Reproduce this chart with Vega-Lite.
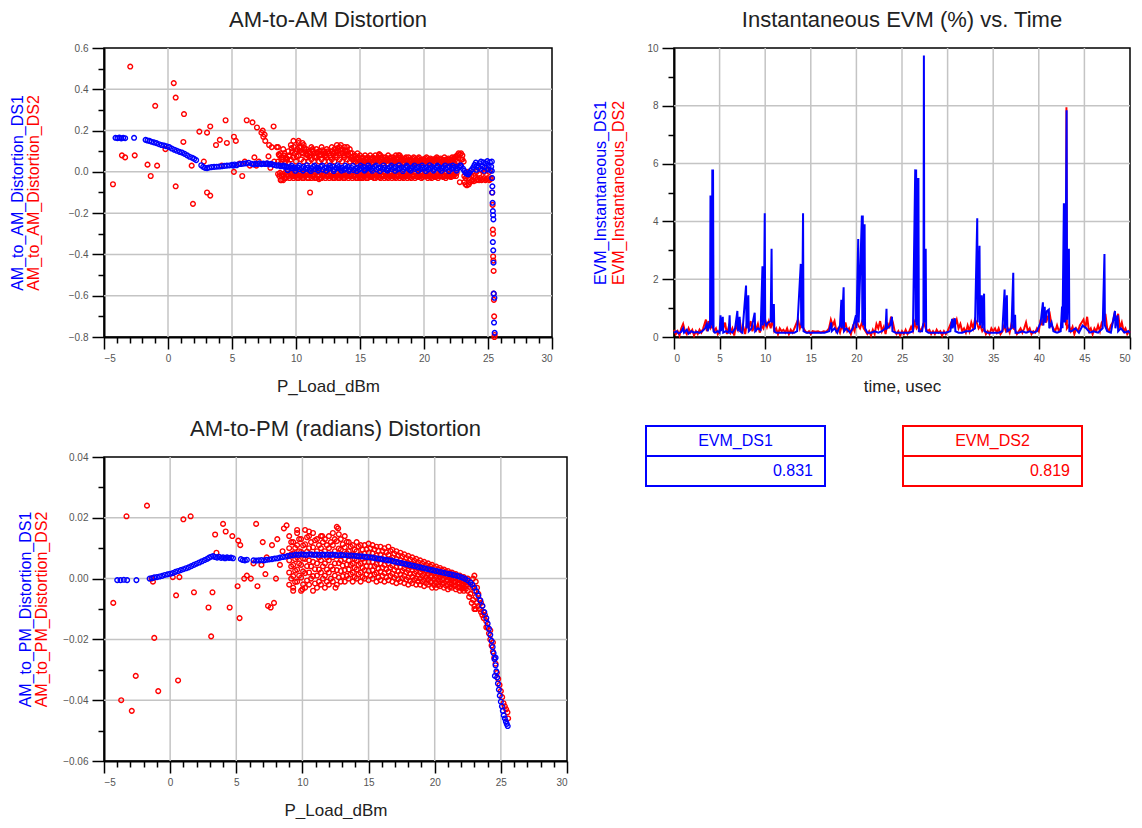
{
"$schema": "https://vega.github.io/schema/vega-lite/v6.json",
"background": "white",
"padding": {"left": 8, "top": 8, "right": 2, "bottom": 0},
"config": {
 "font": "Liberation Sans",
 "view": {"stroke": "#000000", "strokeWidth": 1.5},
 "axis": {"domainColor": "#000000", "domainWidth": 2, "tickColor": "#000000", "tickWidth": 1.5, "labelFont": "Liberation Sans", "labelFontSize": 10, "labelColor": "#555555", "labelPadding": 4, "titleFont": "Liberation Sans", "titleFontWeight": "normal", "titleColor": "#222222"},
 "title": {"font": "Liberation Sans", "fontSize": 22, "fontWeight": "normal", "color": "#222222"}
},
"datasets": {
"amam1": [
{"x":-4.1,"y":0.165},{"x":-3.95,"y":0.163},{"x":-3.8,"y":0.166},{"x":-3.65,"y":0.162},{"x":-3.5,"y":0.165},{"x":-3.35,"y":0.163},{"x":-2.65,"y":0.165},
{"x":-1.75,"y":0.155},{"x":-1.6,"y":0.152},{"x":-1.45,"y":0.15},{"x":-1.3,"y":0.146},{"x":-1.1,"y":0.143},{"x":-0.9,"y":0.139},{"x":-0.7,"y":0.134},{"x":-0.5,"y":0.13},{"x":-0.3,"y":0.127},{"x":-0.1,"y":0.124},{"x":0.1,"y":0.12},{"x":0.3,"y":0.113},{"x":0.5,"y":0.107},{"x":0.7,"y":0.102},{"x":0.9,"y":0.097},{"x":1.1,"y":0.093},{"x":1.3,"y":0.087},{"x":1.5,"y":0.08},{"x":1.7,"y":0.073},{"x":1.9,"y":0.068},{"x":2.05,"y":0.063},{"x":2.2,"y":0.057},
{"x":2.6,"y":0.032},{"x":2.75,"y":0.024},{"x":2.9,"y":0.019},{"x":3.05,"y":0.018},{"x":3.2,"y":0.021},{"x":3.4,"y":0.023},{"x":3.6,"y":0.024},{"x":3.8,"y":0.025},{"x":4.0,"y":0.026},{"x":4.2,"y":0.027},{"x":4.4,"y":0.029},{"x":4.6,"y":0.03},{"x":4.8,"y":0.031},{"x":5.0,"y":0.034},{"x":5.1,"y":0.03},{"x":5.2,"y":0.036},{"x":5.35,"y":0.032},{"x":5.5,"y":0.037},{"x":5.7,"y":0.038},{"x":5.9,"y":0.04},{"x":6.1,"y":0.041},{"x":6.3,"y":0.044},{"x":6.55,"y":0.039},{"x":6.7,"y":0.036},{"x":6.85,"y":0.04},{"x":7.0,"y":0.038},{"x":7.15,"y":0.041},{"x":7.3,"y":0.037},{"x":7.45,"y":0.04},{"x":7.6,"y":0.038},{"x":7.75,"y":0.041},{"x":7.9,"y":0.036},{"x":8.05,"y":0.039},{"x":8.2,"y":0.035},{"x":8.35,"y":0.033},{"x":8.5,"y":0.03},{"x":8.65,"y":0.032},{"x":8.8,"y":0.027},{"x":8.95,"y":0.029},{"x":9.1,"y":0.024},{"x":9.25,"y":0.026},{"x":9.4,"y":0.021},{"x":9.55,"y":0.023},{"x":9.7,"y":0.018},{"x":9.85,"y":0.022},
{"x":10.0,"y":0.016},{"x":10.15,"y":0.022},{"x":10.3,"y":0.012},{"x":10.45,"y":0.019},{"x":10.6,"y":0.025},{"x":10.75,"y":0.014},{"x":10.9,"y":0.02},{"x":11.05,"y":0.01},{"x":11.2,"y":0.018},{"x":11.35,"y":0.024},{"x":11.5,"y":0.013},{"x":11.65,"y":0.02},{"x":11.8,"y":0.016},{"x":11.95,"y":0.025},{"x":12.1,"y":0.011},{"x":12.25,"y":0.019},{"x":12.4,"y":0.022},{"x":12.55,"y":0.014},{"x":12.7,"y":0.02},{"x":12.85,"y":0.026},{"x":13.0,"y":0.012},{"x":13.15,"y":0.018},{"x":13.3,"y":0.023},{"x":13.45,"y":0.015},{"x":13.6,"y":0.02},{"x":13.75,"y":0.01},{"x":13.9,"y":0.017},{"x":14.05,"y":0.024},{"x":14.2,"y":0.013},{"x":14.35,"y":0.019},{"x":14.5,"y":0.008},{"x":14.65,"y":0.016},{"x":14.8,"y":0.021},{"x":14.95,"y":0.012},{"x":15.1,"y":0.018},{"x":15.25,"y":0.024},{"x":15.4,"y":0.011},{"x":15.55,"y":0.017},{"x":15.7,"y":0.022},{"x":15.85,"y":0.013},{"x":16.0,"y":0.019},{"x":16.15,"y":0.025},{"x":16.3,"y":0.012},{"x":16.45,"y":0.018},{"x":16.6,"y":0.022},{"x":16.75,"y":0.014},{"x":16.9,"y":0.02},{"x":17.05,"y":0.01},{"x":17.2,"y":0.017},{"x":17.35,"y":0.023},{"x":17.5,"y":0.013},{"x":17.65,"y":0.019},{"x":17.8,"y":0.024},{"x":17.95,"y":0.012},{"x":18.1,"y":0.018},{"x":18.25,"y":0.022},{"x":18.4,"y":0.014},{"x":18.55,"y":0.02},{"x":18.7,"y":0.025},{"x":18.85,"y":0.012},{"x":19.0,"y":0.018},{"x":19.15,"y":0.023},{"x":19.3,"y":0.014},{"x":19.45,"y":0.019},{"x":19.6,"y":0.025},{"x":19.75,"y":0.013},{"x":19.9,"y":0.02},{"x":20.05,"y":0.016},{"x":20.2,"y":0.022},{"x":20.35,"y":0.012},{"x":20.5,"y":0.019},{"x":20.65,"y":0.024},{"x":20.8,"y":0.014},{"x":20.95,"y":0.02},{"x":21.1,"y":0.026},{"x":21.25,"y":0.013},{"x":21.4,"y":0.019},{"x":21.55,"y":0.023},{"x":21.7,"y":0.015},{"x":21.85,"y":0.021},{"x":22.0,"y":0.027},{"x":22.15,"y":0.014},{"x":22.3,"y":0.02},{"x":22.45,"y":0.025},{"x":22.6,"y":0.016},{"x":22.75,"y":0.022},{"x":22.9,"y":0.028},
{"x":9.05,"y":0.03},{"x":9.35,"y":0.008},{"x":9.65,"y":0.03},{"x":9.95,"y":0.005},{"x":10.25,"y":0.03},{"x":10.55,"y":0.006},{"x":10.85,"y":0.032},{"x":11.15,"y":0.004},{"x":11.45,"y":0.03},{"x":11.75,"y":0.006},{"x":12.05,"y":0.031},{"x":12.35,"y":0.005},{"x":12.65,"y":0.03},{"x":12.95,"y":0.004},{"x":13.25,"y":0.032},{"x":13.55,"y":0.006},{"x":13.85,"y":0.03},{"x":14.15,"y":0.005},{"x":14.45,"y":0.029},{"x":14.75,"y":0.004},{"x":15.05,"y":0.03},{"x":15.35,"y":0.006},{"x":15.65,"y":0.031},{"x":15.95,"y":0.005},{"x":16.25,"y":0.03},{"x":16.55,"y":0.004},{"x":16.85,"y":0.031},{"x":17.15,"y":0.006},{"x":17.45,"y":0.03},{"x":17.75,"y":0.005},{"x":18.05,"y":0.032},{"x":18.35,"y":0.004},{"x":18.65,"y":0.03},{"x":18.95,"y":0.006},{"x":19.25,"y":0.031},{"x":19.55,"y":0.005},{"x":19.85,"y":0.03},{"x":20.15,"y":0.004},{"x":20.45,"y":0.032},{"x":20.75,"y":0.006},{"x":21.05,"y":0.03},{"x":21.35,"y":0.005},{"x":21.65,"y":0.031},{"x":21.95,"y":0.004},{"x":22.25,"y":0.03},{"x":22.55,"y":0.006},{"x":22.85,"y":0.032},
{"x":23.05,"y":0.015},{"x":23.15,"y":0.005},{"x":23.25,"y":-0.005},{"x":23.35,"y":-0.01},{"x":23.45,"y":-0.012},{"x":23.55,"y":-0.004},{"x":23.65,"y":0.006},{"x":23.75,"y":0.012},{"x":23.85,"y":0.022},{"x":23.95,"y":0.034},{"x":24.05,"y":0.045},{"x":24.15,"y":0.03},{"x":24.25,"y":0.02},{"x":24.35,"y":0.042},{"x":24.45,"y":0.05},{"x":24.55,"y":0.028},{"x":24.65,"y":0.046},{"x":24.75,"y":0.022},{"x":24.85,"y":0.04},{"x":24.95,"y":0.052},{"x":25.05,"y":0.03},{"x":25.15,"y":0.047},{"x":25.25,"y":0.025},{"x":25.3,"y":0.05},{"x":24.1,"y":0.01},{"x":24.4,"y":0.015},{"x":24.7,"y":0.005},{"x":25.0,"y":0.012},{"x":25.2,"y":0.008},
{"x":25.3,"y":0.005},{"x":25.32,"y":-0.03},{"x":25.34,"y":-0.07},{"x":25.33,"y":-0.1},{"x":25.36,"y":-0.15},{"x":25.38,"y":-0.19},{"x":25.4,"y":-0.21},{"x":25.42,"y":-0.23},{"x":25.38,"y":-0.34},{"x":25.41,"y":-0.38},{"x":25.43,"y":-0.44},{"x":25.45,"y":-0.59},{"x":25.5,"y":-0.61},{"x":25.47,"y":-0.73},{"x":25.52,"y":-0.78}
],
"amam2": [
{"x":-4.3,"y":-0.06},{"x":-3.6,"y":0.08},{"x":-3.35,"y":0.07},{"x":-2.95,"y":0.51},{"x":-2.6,"y":0.08},{"x":-1.6,"y":0.035},{"x":-1.35,"y":-0.02},{"x":-1.0,"y":0.32},{"x":-0.85,"y":0.03},{"x":-0.2,"y":0.11},{"x":0.45,"y":0.43},{"x":0.6,"y":0.36},{"x":0.6,"y":-0.07},{"x":1.25,"y":0.28},{"x":1.2,"y":0.145},{"x":1.85,"y":0.03},{"x":1.95,"y":-0.155},{"x":2.45,"y":0.195},{"x":3.05,"y":0.19},{"x":3.3,"y":0.22},{"x":3.05,"y":-0.1},{"x":3.3,"y":-0.115},{"x":3.75,"y":0.13},{"x":4.05,"y":0.155},{"x":4.5,"y":0.25},{"x":4.6,"y":0.14},{"x":5.15,"y":0.17},{"x":5.3,"y":0.15},{"x":5.15,"y":0.0},{"x":5.8,"y":-0.02},{"x":6.15,"y":0.25},{"x":6.6,"y":0.24},{"x":6.75,"y":0.07},{"x":6.95,"y":0.215},{"x":7.3,"y":0.19},{"x":7.45,"y":0.17},{"x":7.6,"y":0.15},{"x":7.9,"y":0.13},{"x":8.25,"y":0.22},{"x":7.85,"y":0.075},{"x":8.1,"y":0.12},{"x":8.5,"y":0.12},{"x":8.85,"y":-0.04},{"x":6.4,"y":0.03},{"x":6.9,"y":0.03},{"x":7.1,"y":0.05},{"x":5.6,"y":0.04},{"x":4.2,"y":0.03},{"x":2.8,"y":0.05},{"x":6.0,"y":0.05},{"x":7.7,"y":0.04},{"x":8.3,"y":0.05},{"x":8.0,"y":0.02},{"x":7.4,"y":0.2},{"x":7.55,"y":0.18},
{"x":8.6,"y":0.12},{"x":8.6,"y":0.05},{"x":8.6,"y":-0.01},{"x":8.7,"y":0.08},{"x":8.7,"y":-0.02},
{"x":8.8,"y":0.09},{"x":8.8,"y":0.04},{"x":8.8,"y":-0.04},{"x":8.9,"y":0.07},{"x":8.9,"y":-0.02},
{"x":9.0,"y":0.11},{"x":9.0,"y":0.06},{"x":9.0,"y":-0.02},{"x":9.1,"y":0.09},{"x":9.1,"y":-0.03},
{"x":9.2,"y":0.07},{"x":9.2,"y":0.05},{"x":9.2,"y":-0.03},{"x":9.3,"y":0.06},{"x":9.3,"y":-0.01},
{"x":9.4,"y":0.1},{"x":9.4,"y":0.04},{"x":9.4,"y":-0.02},{"x":9.5,"y":0.08},{"x":9.5,"y":-0.03},
{"x":9.6,"y":0.13},{"x":9.6,"y":0.06},{"x":9.6,"y":-0.01},{"x":9.7,"y":0.1},{"x":9.7,"y":-0.02},
{"x":9.8,"y":0.15},{"x":9.8,"y":0.07},{"x":9.8,"y":-0.03},{"x":9.9,"y":0.09},{"x":9.9,"y":-0.02},
{"x":10.0,"y":0.1},{"x":10.0,"y":0.05},{"x":10.0,"y":-0.02},{"x":10.1,"y":0.11},{"x":10.1,"y":-0.03},
{"x":10.2,"y":0.14},{"x":10.2,"y":0.08},{"x":10.2,"y":-0.03},{"x":10.3,"y":0.1},{"x":10.3,"y":-0.02},
{"x":10.4,"y":0.12},{"x":10.4,"y":0.06},{"x":10.4,"y":-0.02},{"x":10.5,"y":0.09},{"x":10.5,"y":-0.03},
{"x":10.6,"y":0.13},{"x":10.6,"y":0.05},{"x":10.6,"y":-0.03},{"x":10.7,"y":0.1},{"x":10.7,"y":-0.02},
{"x":10.8,"y":0.11},{"x":10.8,"y":0.07},{"x":10.8,"y":-0.01},{"x":10.9,"y":0.08},{"x":10.9,"y":-0.03},
{"x":11.0,"y":0.1},{"x":11.0,"y":0.05},{"x":11.0,"y":-0.03},{"x":11.1,"y":0.09},{"x":11.1,"y":-0.1},
{"x":11.2,"y":0.12},{"x":11.2,"y":0.06},{"x":11.2,"y":-0.03},{"x":11.3,"y":0.1},{"x":11.3,"y":-0.02},
{"x":11.4,"y":0.09},{"x":11.4,"y":0.05},{"x":11.4,"y":-0.02},{"x":11.5,"y":0.07},{"x":11.5,"y":-0.03},
{"x":11.6,"y":0.11},{"x":11.6,"y":0.07},{"x":11.6,"y":-0.03},{"x":11.7,"y":0.09},{"x":11.7,"y":-0.02},
{"x":11.8,"y":0.1},{"x":11.8,"y":0.05},{"x":11.8,"y":-0.035},{"x":11.9,"y":0.08},{"x":11.9,"y":-0.03},
{"x":12.0,"y":0.12},{"x":12.0,"y":0.06},{"x":12.0,"y":-0.03},{"x":12.1,"y":0.09},{"x":12.1,"y":-0.02},
{"x":12.2,"y":0.1},{"x":12.2,"y":0.05},{"x":12.2,"y":-0.01},{"x":12.3,"y":0.08},{"x":12.3,"y":-0.03},
{"x":12.4,"y":0.11},{"x":12.4,"y":0.07},{"x":12.4,"y":-0.02},{"x":12.5,"y":0.1},{"x":12.5,"y":-0.02},
{"x":12.6,"y":0.09},{"x":12.6,"y":0.05},{"x":12.6,"y":-0.03},{"x":12.7,"y":0.07},{"x":12.7,"y":-0.02},
{"x":12.8,"y":0.12},{"x":12.8,"y":0.06},{"x":12.8,"y":-0.02},{"x":12.9,"y":0.09},{"x":12.9,"y":-0.03},
{"x":13.0,"y":0.11},{"x":13.0,"y":0.05},{"x":13.0,"y":-0.03},{"x":13.1,"y":0.08},{"x":13.1,"y":-0.02},
{"x":13.2,"y":0.13},{"x":13.2,"y":0.07},{"x":13.2,"y":-0.02},{"x":13.3,"y":0.1},{"x":13.3,"y":-0.03},
{"x":13.4,"y":0.12},{"x":13.4,"y":0.06},{"x":13.4,"y":-0.03},{"x":13.5,"y":0.09},{"x":13.5,"y":-0.02},
{"x":13.6,"y":0.11},{"x":13.6,"y":0.05},{"x":13.6,"y":-0.02},{"x":13.7,"y":0.08},{"x":13.7,"y":-0.03},
{"x":13.8,"y":0.12},{"x":13.8,"y":0.07},{"x":13.8,"y":-0.03},{"x":13.9,"y":0.09},{"x":13.9,"y":-0.02},
{"x":14.0,"y":0.1},{"x":14.0,"y":0.06},{"x":14.0,"y":-0.02},{"x":14.1,"y":0.08},{"x":14.1,"y":-0.03},
{"x":14.2,"y":0.11},{"x":14.2,"y":0.05},{"x":14.2,"y":-0.02},{"x":14.3,"y":0.07},{"x":14.3,"y":-0.02},
{"x":14.4,"y":0.09},{"x":14.4,"y":0.06},{"x":14.4,"y":-0.03},{"x":14.5,"y":0.06},{"x":14.5,"y":-0.02},
{"x":14.6,"y":0.08},{"x":14.6,"y":0.05},{"x":14.6,"y":-0.02},{"x":14.7,"y":0.065},{"x":14.7,"y":-0.03},
{"x":14.8,"y":0.09},{"x":14.8,"y":0.04},{"x":14.8,"y":-0.03},{"x":14.9,"y":0.06},{"x":14.9,"y":-0.02},
{"x":15.0,"y":0.08},{"x":15.0,"y":0.05},{"x":15.0,"y":-0.02},{"x":15.1,"y":0.065},{"x":15.1,"y":-0.03},
{"x":15.2,"y":0.07},{"x":15.2,"y":0.04},{"x":15.2,"y":-0.03},{"x":15.3,"y":0.055},{"x":15.3,"y":-0.02},
{"x":15.4,"y":0.08},{"x":15.4,"y":0.05},{"x":15.4,"y":-0.02},{"x":15.5,"y":0.06},{"x":15.5,"y":-0.03},
{"x":15.6,"y":0.07},{"x":15.6,"y":0.04},{"x":15.6,"y":-0.03},{"x":15.7,"y":0.055},{"x":15.7,"y":-0.02},
{"x":15.8,"y":0.08},{"x":15.8,"y":0.05},{"x":15.8,"y":-0.02},{"x":15.9,"y":0.065},{"x":15.9,"y":-0.025},
{"x":16.0,"y":0.07},{"x":16.0,"y":0.04},{"x":16.0,"y":-0.02},{"x":16.1,"y":0.055},{"x":16.1,"y":-0.03},
{"x":16.2,"y":0.08},{"x":16.2,"y":0.05},{"x":16.2,"y":-0.03},{"x":16.3,"y":0.06},{"x":16.3,"y":-0.02},
{"x":16.4,"y":0.07},{"x":16.4,"y":0.04},{"x":16.4,"y":-0.02},{"x":16.5,"y":0.085},{"x":16.5,"y":-0.025},
{"x":16.6,"y":0.08},{"x":16.6,"y":0.05},{"x":16.6,"y":-0.03},{"x":16.7,"y":0.06},{"x":16.7,"y":-0.02},
{"x":16.8,"y":0.07},{"x":16.8,"y":0.04},{"x":16.8,"y":-0.02},{"x":16.9,"y":0.055},{"x":16.9,"y":-0.03},
{"x":17.0,"y":0.07},{"x":17.0,"y":0.05},{"x":17.0,"y":-0.02},{"x":17.1,"y":0.06},{"x":17.1,"y":-0.025},
{"x":17.2,"y":0.08},{"x":17.2,"y":0.04},{"x":17.2,"y":-0.03},{"x":17.3,"y":0.065},{"x":17.3,"y":-0.02},
{"x":17.4,"y":0.07},{"x":17.4,"y":0.05},{"x":17.4,"y":-0.02},{"x":17.5,"y":0.055},{"x":17.5,"y":-0.03},
{"x":17.6,"y":0.07},{"x":17.6,"y":0.04},{"x":17.6,"y":-0.02},{"x":17.7,"y":0.06},{"x":17.7,"y":-0.025},
{"x":17.8,"y":0.08},{"x":17.8,"y":0.05},{"x":17.8,"y":-0.03},{"x":17.9,"y":0.065},{"x":17.9,"y":-0.02},
{"x":18.0,"y":0.07},{"x":18.0,"y":0.04},{"x":18.0,"y":-0.02},{"x":18.1,"y":0.08},{"x":18.1,"y":-0.03},
{"x":18.2,"y":0.07},{"x":18.2,"y":0.05},{"x":18.2,"y":-0.02},{"x":18.3,"y":0.055},{"x":18.3,"y":-0.025},
{"x":18.4,"y":0.06},{"x":18.4,"y":0.04},{"x":18.4,"y":-0.03},{"x":18.5,"y":0.065},{"x":18.5,"y":-0.02},
{"x":18.6,"y":0.07},{"x":18.6,"y":0.05},{"x":18.6,"y":-0.02},{"x":18.7,"y":0.055},{"x":18.7,"y":-0.03},
{"x":18.8,"y":0.07},{"x":18.8,"y":0.04},{"x":18.8,"y":-0.02},{"x":18.9,"y":0.06},{"x":18.9,"y":-0.025},
{"x":19.0,"y":0.06},{"x":19.0,"y":0.05},{"x":19.0,"y":-0.03},{"x":19.1,"y":0.065},{"x":19.1,"y":-0.02},
{"x":19.2,"y":0.07},{"x":19.2,"y":0.04},{"x":19.2,"y":-0.02},{"x":19.3,"y":0.055},{"x":19.3,"y":-0.03},
{"x":19.4,"y":0.06},{"x":19.4,"y":0.05},{"x":19.4,"y":-0.02},{"x":19.5,"y":0.065},{"x":19.5,"y":-0.025},
{"x":19.6,"y":0.07},{"x":19.6,"y":0.04},{"x":19.6,"y":-0.02},{"x":19.7,"y":0.055},{"x":19.7,"y":-0.02},
{"x":19.8,"y":0.06},{"x":19.8,"y":0.05},{"x":19.8,"y":-0.03},{"x":19.9,"y":0.06},{"x":19.9,"y":-0.025},
{"x":20.0,"y":0.06},{"x":20.0,"y":0.04},{"x":20.0,"y":-0.02},{"x":20.1,"y":0.065},{"x":20.1,"y":-0.02},
{"x":20.2,"y":0.07},{"x":20.2,"y":0.05},{"x":20.2,"y":-0.02},{"x":20.3,"y":0.055},{"x":20.3,"y":-0.03},
{"x":20.4,"y":0.06},{"x":20.4,"y":0.04},{"x":20.4,"y":-0.02},{"x":20.5,"y":0.065},{"x":20.5,"y":-0.025},
{"x":20.6,"y":0.06},{"x":20.6,"y":0.05},{"x":20.6,"y":-0.03},{"x":20.7,"y":0.055},{"x":20.7,"y":-0.02},
{"x":20.8,"y":0.06},{"x":20.8,"y":0.04},{"x":20.8,"y":-0.02},{"x":20.9,"y":0.065},{"x":20.9,"y":-0.025},
{"x":21.0,"y":0.07},{"x":21.0,"y":0.05},{"x":21.0,"y":-0.02},{"x":21.1,"y":0.055},{"x":21.1,"y":-0.03},
{"x":21.2,"y":0.06},{"x":21.2,"y":0.04},{"x":21.2,"y":-0.02},{"x":21.3,"y":0.065},{"x":21.3,"y":-0.02},
{"x":21.4,"y":0.06},{"x":21.4,"y":0.05},{"x":21.4,"y":-0.02},{"x":21.5,"y":0.055},{"x":21.5,"y":-0.025},
{"x":21.6,"y":0.07},{"x":21.6,"y":0.04},{"x":21.6,"y":-0.02},{"x":21.7,"y":0.06},{"x":21.7,"y":-0.03},
{"x":21.8,"y":0.06},{"x":21.8,"y":0.05},{"x":21.8,"y":-0.02},{"x":21.9,"y":0.065},{"x":21.9,"y":-0.02},
{"x":22.0,"y":0.06},{"x":22.0,"y":0.04},{"x":22.0,"y":-0.02},{"x":22.1,"y":0.055},{"x":22.1,"y":-0.025},
{"x":22.2,"y":0.07},{"x":22.2,"y":0.05},{"x":22.2,"y":-0.02},{"x":22.3,"y":0.065},{"x":22.3,"y":-0.02},
{"x":22.4,"y":0.07},{"x":22.4,"y":0.04},{"x":22.4,"y":-0.01},{"x":22.5,"y":0.075},{"x":22.5,"y":-0.02},
{"x":8.65,"y":0.085},{"x":8.75,"y":-0.005},{"x":8.85,"y":0.06},{"x":8.95,"y":-0.01},{"x":9.05,"y":0.08},{"x":9.15,"y":-0.005},{"x":9.25,"y":0.065},{"x":9.35,"y":-0.015},{"x":9.45,"y":0.075},{"x":9.55,"y":-0.005},{"x":9.65,"y":0.115},{"x":9.75,"y":-0.01},{"x":9.85,"y":0.12},{"x":9.95,"y":-0.005},
{"x":10.05,"y":0.075},{"x":10.15,"y":-0.015},{"x":10.25,"y":0.12},{"x":10.35,"y":-0.005},{"x":10.45,"y":0.095},{"x":10.55,"y":-0.01},{"x":10.65,"y":0.115},{"x":10.75,"y":-0.005},{"x":10.85,"y":0.085},{"x":10.95,"y":-0.015},
{"x":11.05,"y":0.075},{"x":11.15,"y":-0.005},{"x":11.25,"y":0.105},{"x":11.35,"y":-0.01},{"x":11.45,"y":0.075},{"x":11.55,"y":-0.005},{"x":11.65,"y":0.095},{"x":11.75,"y":-0.015},{"x":11.85,"y":0.085},{"x":11.95,"y":-0.005},
{"x":12.05,"y":0.105},{"x":12.15,"y":-0.01},{"x":12.25,"y":0.075},{"x":12.35,"y":-0.005},{"x":12.45,"y":0.095},{"x":12.55,"y":-0.015},{"x":12.65,"y":0.08},{"x":12.75,"y":-0.005},{"x":12.85,"y":0.1},{"x":12.95,"y":-0.01},
{"x":13.05,"y":0.095},{"x":13.15,"y":-0.005},{"x":13.25,"y":0.115},{"x":13.35,"y":-0.015},{"x":13.45,"y":0.105},{"x":13.55,"y":-0.005},{"x":13.65,"y":0.09},{"x":13.75,"y":-0.01},{"x":13.85,"y":0.105},{"x":13.95,"y":-0.005},
{"x":14.05,"y":0.085},{"x":14.15,"y":-0.015},{"x":14.25,"y":0.09},{"x":14.35,"y":-0.005},{"x":14.45,"y":0.075},{"x":14.55,"y":-0.01},
{"x":14.65,"y":0.05},{"x":14.75,"y":-0.005},{"x":14.85,"y":0.07},{"x":14.95,"y":-0.01},{"x":15.05,"y":0.045},{"x":15.15,"y":-0.015},{"x":15.25,"y":0.055},{"x":15.35,"y":-0.005},{"x":15.45,"y":0.065},{"x":15.55,"y":-0.01},{"x":15.65,"y":0.05},{"x":15.75,"y":-0.005},{"x":15.85,"y":0.06},{"x":15.95,"y":-0.015},
{"x":16.05,"y":0.045},{"x":16.15,"y":-0.005},{"x":16.25,"y":0.065},{"x":16.35,"y":-0.01},{"x":16.45,"y":0.055},{"x":16.55,"y":-0.005},{"x":16.65,"y":0.07},{"x":16.75,"y":-0.015},{"x":16.85,"y":0.05},{"x":16.95,"y":-0.005},
{"x":17.05,"y":0.06},{"x":17.15,"y":-0.01},{"x":17.25,"y":0.055},{"x":17.35,"y":-0.005},{"x":17.45,"y":0.045},{"x":17.55,"y":-0.015},{"x":17.65,"y":0.06},{"x":17.75,"y":-0.005},{"x":17.85,"y":0.065},{"x":17.95,"y":-0.01},
{"x":18.05,"y":0.05},{"x":18.15,"y":-0.005},{"x":18.25,"y":0.06},{"x":18.35,"y":-0.015},{"x":18.45,"y":0.045},{"x":18.55,"y":-0.005},{"x":18.65,"y":0.055},{"x":18.75,"y":-0.01},{"x":18.85,"y":0.05},{"x":18.95,"y":-0.005},
{"x":19.05,"y":0.055},{"x":19.15,"y":-0.015},{"x":19.25,"y":0.045},{"x":19.35,"y":-0.005},{"x":19.45,"y":0.055},{"x":19.55,"y":-0.01},{"x":19.65,"y":0.05},{"x":19.75,"y":-0.005},{"x":19.85,"y":0.045},{"x":19.95,"y":-0.015},
{"x":20.05,"y":0.055},{"x":20.15,"y":-0.005},{"x":20.25,"y":0.05},{"x":20.35,"y":-0.01},{"x":20.45,"y":0.045},{"x":20.55,"y":-0.005},{"x":20.65,"y":0.055},{"x":20.75,"y":-0.015},{"x":20.85,"y":0.05},{"x":20.95,"y":-0.005},
{"x":21.05,"y":0.06},{"x":21.15,"y":-0.01},{"x":21.25,"y":0.045},{"x":21.35,"y":-0.005},{"x":21.45,"y":0.05},{"x":21.55,"y":-0.015},{"x":21.65,"y":0.055},{"x":21.75,"y":-0.005},{"x":21.85,"y":0.045},{"x":21.95,"y":-0.01},
{"x":22.05,"y":0.05},{"x":22.15,"y":-0.005},{"x":22.25,"y":0.055},{"x":22.35,"y":-0.015},{"x":22.45,"y":0.06},{"x":22.55,"y":-0.005},
{"x":9.0,"y":-0.04},{"x":10.2,"y":0.15},{"x":11.5,"y":-0.03},{"x":12.3,"y":0.09},{"x":13.5,"y":0.13},{"x":14.0,"y":0.12},{"x":15.0,"y":-0.03},{"x":16.5,"y":0.085},{"x":18.0,"y":0.08},{"x":10.5,"y":0.14},{"x":11.3,"y":0.11},
{"x":22.6,"y":0.08},{"x":22.6,"y":0.05},{"x":22.7,"y":0.09},{"x":22.8,"y":0.085},{"x":22.8,"y":0.03},{"x":22.9,"y":0.09},{"x":23.0,"y":0.08},{"x":23.0,"y":0.06},{"x":23.1,"y":0.05},{"x":22.8,"y":-0.05},{"x":22.7,"y":0.065},{"x":22.9,"y":0.06},
{"x":23.15,"y":-0.02},{"x":23.15,"y":-0.05},{"x":23.25,"y":-0.06},{"x":23.25,"y":-0.03},{"x":23.35,"y":-0.065},{"x":23.35,"y":-0.02},{"x":23.35,"y":0.0},{"x":23.5,"y":-0.06},{"x":23.5,"y":-0.03},{"x":23.6,"y":-0.05},{"x":23.6,"y":-0.01},{"x":23.7,"y":-0.045},{"x":23.7,"y":-0.02},{"x":23.8,"y":-0.04},{"x":23.8,"y":0.0},{"x":23.9,"y":-0.045},{"x":23.9,"y":-0.02},{"x":24.0,"y":-0.03},{"x":24.1,"y":-0.04},{"x":24.1,"y":0.0},{"x":24.2,"y":-0.035},{"x":24.3,"y":-0.04},{"x":24.3,"y":-0.01},{"x":24.4,"y":-0.03},{"x":24.5,"y":-0.04},{"x":24.5,"y":0.01},{"x":24.6,"y":-0.035},{"x":24.7,"y":-0.03},{"x":24.7,"y":0.0},{"x":24.8,"y":-0.04},{"x":24.9,"y":-0.035},{"x":24.9,"y":0.01},{"x":25.0,"y":-0.03},{"x":25.1,"y":-0.04},{"x":25.1,"y":0.0},{"x":25.2,"y":-0.035},{"x":25.3,"y":-0.03},
{"x":25.33,"y":-0.1},{"x":25.36,"y":-0.16},{"x":25.38,"y":-0.28},{"x":25.4,"y":-0.3},{"x":25.4,"y":-0.41},{"x":25.42,"y":-0.43},{"x":25.44,"y":-0.48},{"x":25.44,"y":-0.59},{"x":25.46,"y":-0.62},{"x":25.48,"y":-0.7},{"x":25.5,"y":-0.8},{"x":25.52,"y":-0.79}
],
"ampm1": [
{"x":-4.0,"y":-0.0005},{"x":-3.75,"y":-0.0005},{"x":-3.5,"y":-0.0004},{"x":-3.25,"y":-0.0005},{"x":-2.55,"y":-0.0005},{"x":-1.55,"y":0.0},{"x":-1.35,"y":0.0002},{"x":-1.2,"y":0.0004},{"x":-1.0,"y":0.0005},{"x":-0.8,"y":0.0007},{"x":-0.6,"y":0.0009},{"x":-0.4,"y":0.0012},{"x":-0.2,"y":0.0014},{"x":0.0,"y":0.0016},{"x":0.2,"y":0.0018},{"x":0.4,"y":0.0022},{"x":0.6,"y":0.0025},{"x":0.8,"y":0.0028},{"x":1.0,"y":0.0031},{"x":1.2,"y":0.0034},{"x":1.4,"y":0.0037},{"x":1.6,"y":0.0041},{"x":1.8,"y":0.0045},{"x":2.0,"y":0.0049},{"x":2.2,"y":0.0053},{"x":2.4,"y":0.0057},{"x":2.6,"y":0.0061},{"x":2.8,"y":0.0065},{"x":2.95,"y":0.0069},{"x":3.1,"y":0.0072},{"x":3.25,"y":0.0074},{"x":3.4,"y":0.0071},{"x":3.55,"y":0.0069},{"x":3.7,"y":0.0072},{"x":3.85,"y":0.0068},{"x":4.0,"y":0.007},{"x":4.15,"y":0.0067},{"x":4.3,"y":0.007},{"x":4.45,"y":0.0068},{"x":4.6,"y":0.0069},{"x":4.75,"y":0.0067},{"x":5.35,"y":0.0064},{"x":5.5,"y":0.0061},{"x":5.65,"y":0.006},{"x":5.8,"y":0.0062},{"x":6.3,"y":0.006},{"x":6.5,"y":0.0059},{"x":6.7,"y":0.006},{"x":6.9,"y":0.0061},{"x":7.1,"y":0.006},{"x":7.3,"y":0.0062},{"x":7.5,"y":0.0063},{"x":7.7,"y":0.0064},{"x":7.9,"y":0.0066},{"x":8.1,"y":0.0067},{"x":8.3,"y":0.0069},{"x":8.5,"y":0.0071},{"x":8.7,"y":0.0072},{"x":8.9,"y":0.0074},{"x":9.1,"y":0.0076},{"x":9.3,"y":0.0077},{"x":9.5,"y":0.0079},{"x":9.7,"y":0.0078},{"x":9.9,"y":0.008},{"x":10.1,"y":0.0079},{"x":10.3,"y":0.0078},{"x":10.5,"y":0.008},{"x":10.7,"y":0.0079},{"x":10.9,"y":0.0078},{"x":11.1,"y":0.0079},{"x":11.3,"y":0.0078},{"x":11.5,"y":0.0079},{"x":11.7,"y":0.0078},{"x":11.9,"y":0.0079},{"x":12.1,"y":0.0078},{"x":12.3,"y":0.0079},{"x":12.5,"y":0.0078},{"x":12.7,"y":0.0077},{"x":12.9,"y":0.0078},{"x":13.1,"y":0.0077},{"x":13.3,"y":0.0077},{"x":13.5,"y":0.0076},{"x":13.7,"y":0.0076},{"x":13.9,"y":0.0075},{"x":14.1,"y":0.0074},{"x":14.3,"y":0.0073},{"x":14.5,"y":0.0073},{"x":14.7,"y":0.0072},{"x":14.9,"y":0.0071},{"x":15.1,"y":0.007},{"x":15.3,"y":0.0069},{"x":15.5,"y":0.0067},{"x":15.7,"y":0.0066},{"x":15.9,"y":0.0065},{"x":16.1,"y":0.0063},{"x":16.3,"y":0.0062},{"x":16.5,"y":0.006},{"x":16.7,"y":0.0059},{"x":16.9,"y":0.0057},{"x":17.1,"y":0.0055},{"x":17.3,"y":0.0053},{"x":17.5,"y":0.0051},{"x":17.7,"y":0.0049},{"x":17.9,"y":0.0047},{"x":18.1,"y":0.0045},{"x":18.3,"y":0.0043},{"x":18.5,"y":0.0041},{"x":18.7,"y":0.0039},{"x":18.9,"y":0.0037},{"x":19.1,"y":0.0035},{"x":19.3,"y":0.0033},{"x":19.5,"y":0.0031},{"x":19.7,"y":0.0029},{"x":19.9,"y":0.0027},{"x":20.1,"y":0.0025},{"x":20.3,"y":0.0023},{"x":20.5,"y":0.0021},{"x":20.7,"y":0.0019},{"x":20.9,"y":0.0017},{"x":21.1,"y":0.0015},{"x":21.3,"y":0.0013},{"x":21.5,"y":0.0011},{"x":21.7,"y":0.0009},{"x":21.9,"y":0.0006},{"x":22.1,"y":0.0003},{"x":22.3,"y":-0.0001},{"x":22.5,"y":-0.0006},{"x":22.7,"y":-0.0013},{"x":22.85,"y":-0.002},{"x":23.0,"y":-0.003},{"x":23.15,"y":-0.0042},{"x":23.3,"y":-0.0056},{"x":23.45,"y":-0.0072},{"x":23.6,"y":-0.009},{"x":23.75,"y":-0.011},{"x":23.9,"y":-0.013},{"x":24.0,"y":-0.0148},{"x":24.1,"y":-0.0165},{"x":24.2,"y":-0.0185},{"x":24.3,"y":-0.0205},{"x":24.38,"y":-0.0225},{"x":24.45,"y":-0.0245},{"x":24.52,"y":-0.0265},{"x":24.6,"y":-0.0285},{"x":24.66,"y":-0.0305},{"x":24.72,"y":-0.0325},{"x":24.78,"y":-0.0345},{"x":24.85,"y":-0.0365},{"x":24.92,"y":-0.0385},{"x":25.0,"y":-0.0405},{"x":25.08,"y":-0.042},{"x":25.15,"y":-0.0435},{"x":25.22,"y":-0.045},{"x":25.3,"y":-0.046},{"x":25.38,"y":-0.047},{"x":25.45,"y":-0.0478},{"x":25.52,"y":-0.0485},{"x":24.55,"y":-0.032},{"x":24.6,"y":-0.026}
],
"ampm2": [
{"x":-4.3,"y":-0.008},{"x":-3.3,"y":0.0205},{"x":-3.7,"y":-0.04},{"x":-2.9,"y":-0.0435},{"x":-2.6,"y":-0.032},{"x":-1.75,"y":0.024},{"x":-1.3,"y":-0.001},{"x":-1.2,"y":-0.0195},{"x":-0.9,"y":-0.037},{"x":0.45,"y":-0.0055},{"x":0.6,"y":-0.0335},{"x":1.0,"y":0.0195},{"x":1.55,"y":0.0205},{"x":1.8,"y":-0.0045},{"x":2.9,"y":-0.0095},{"x":3.1,"y":-0.019},{"x":3.2,"y":-0.0045},{"x":3.4,"y":0.0145},{"x":4.0,"y":0.018},{"x":4.2,"y":0.0155},{"x":4.5,"y":-0.0095},{"x":4.7,"y":0.014},{"x":5.15,"y":0.0125},{"x":5.25,"y":-0.013},{"x":5.3,"y":0.011},{"x":5.1,"y":-0.0025},{"x":5.6,"y":0.0},{"x":6.3,"y":0.005},{"x":6.5,"y":0.018},{"x":6.6,"y":-0.0025},{"x":6.9,"y":0.0045},{"x":7.0,"y":0.012},{"x":7.4,"y":-0.009},{"x":7.6,"y":-0.0095},{"x":7.85,"y":-0.008},{"x":7.7,"y":0.011},{"x":8.1,"y":0.013},{"x":8.3,"y":0.0045},{"x":8.6,"y":0.0165},{"x":8.8,"y":0.0175},{"x":8.9,"y":0.0075},{"x":8.0,"y":0.0},{"x":7.3,"y":0.007},{"x":8.5,"y":0.009},{"x":6.1,"y":0.0},{"x":5.8,"y":0.001},{"x":7.2,"y":0.0015},{"x":3.5,"y":0.0085},{"x":-1.4,"y":0.0},{"x":0.2,"y":0.0005},{"x":0.7,"y":0.0005},{"x":9.3,"y":-0.004},{"x":9.6,"y":0.016},{"x":10.0,"y":-0.0035},{"x":10.5,"y":0.0155},{"x":11.5,"y":0.014},{"x":12.5,"y":-0.003},{"x":12.7,"y":0.0165},
{"x":9.0,"y":0.014},{"x":9.0,"y":0.01},{"x":9.0,"y":0.006},{"x":9.0,"y":0.002},{"x":9.0,"y":-0.002},
{"x":9.3,"y":0.012},{"x":9.3,"y":0.0083},{"x":9.3,"y":0.0045},{"x":9.3,"y":0.0008},{"x":9.3,"y":-0.003},
{"x":9.6,"y":0.015},{"x":9.6,"y":0.011},{"x":9.6,"y":0.007},{"x":9.6,"y":0.003},{"x":9.6,"y":-0.001},
{"x":9.9,"y":0.013},{"x":9.9,"y":0.0088},{"x":9.9,"y":0.0045},{"x":9.9,"y":0.0003},{"x":9.9,"y":-0.004},
{"x":10.2,"y":0.016},{"x":10.2,"y":0.0113},{"x":10.2,"y":0.0065},{"x":10.2,"y":0.0018},{"x":10.2,"y":-0.003},
{"x":10.5,"y":0.014},{"x":10.5,"y":0.01},{"x":10.5,"y":0.006},{"x":10.5,"y":0.002},{"x":10.5,"y":-0.002},
{"x":10.8,"y":0.015},{"x":10.8,"y":0.0103},{"x":10.8,"y":0.0055},{"x":10.8,"y":0.0008},{"x":10.8,"y":-0.004},
{"x":11.1,"y":0.013},{"x":11.1,"y":0.009},{"x":11.1,"y":0.005},{"x":11.1,"y":0.001},{"x":11.1,"y":-0.003},
{"x":11.4,"y":0.014},{"x":11.4,"y":0.01},{"x":11.4,"y":0.006},{"x":11.4,"y":0.002},{"x":11.4,"y":-0.002},
{"x":11.7,"y":0.013},{"x":11.7,"y":0.009},{"x":11.7,"y":0.005},{"x":11.7,"y":0.001},{"x":11.7,"y":-0.003},
{"x":12.0,"y":0.014},{"x":12.0,"y":0.01},{"x":12.0,"y":0.006},{"x":12.0,"y":0.002},{"x":12.0,"y":-0.002},
{"x":12.3,"y":0.015},{"x":12.3,"y":0.011},{"x":12.3,"y":0.007},{"x":12.3,"y":0.003},{"x":12.3,"y":-0.001},
{"x":12.6,"y":0.017},{"x":12.6,"y":0.0123},{"x":12.6,"y":0.0075},{"x":12.6,"y":0.0028},{"x":12.6,"y":-0.002},
{"x":12.9,"y":0.013},{"x":12.9,"y":0.0095},{"x":12.9,"y":0.006},{"x":12.9,"y":0.0025},{"x":12.9,"y":-0.001},
{"x":13.2,"y":0.014},{"x":13.2,"y":0.0103},{"x":13.2,"y":0.0065},{"x":13.2,"y":0.0028},{"x":13.2,"y":-0.001},
{"x":13.5,"y":0.012},{"x":13.5,"y":0.009},{"x":13.5,"y":0.006},{"x":13.5,"y":0.003},{"x":13.5,"y":0.0},
{"x":13.8,"y":0.011},{"x":13.8,"y":0.008},{"x":13.8,"y":0.005},{"x":13.8,"y":0.002},{"x":13.8,"y":-0.001},
{"x":14.1,"y":0.012},{"x":14.1,"y":0.009},{"x":14.1,"y":0.006},{"x":14.1,"y":0.003},{"x":14.1,"y":0.0},
{"x":14.4,"y":0.011},{"x":14.4,"y":0.008},{"x":14.4,"y":0.005},{"x":14.4,"y":0.002},{"x":14.4,"y":-0.001},
{"x":14.7,"y":0.011},{"x":14.7,"y":0.0083},{"x":14.7,"y":0.0055},{"x":14.7,"y":0.0028},{"x":14.7,"y":0.0},
{"x":15.0,"y":0.0115},{"x":15.0,"y":0.0085},{"x":15.0,"y":0.0055},{"x":15.0,"y":0.0025},{"x":15.0,"y":-0.0005},
{"x":15.3,"y":0.011},{"x":15.3,"y":0.0083},{"x":15.3,"y":0.0055},{"x":15.3,"y":0.0028},{"x":15.3,"y":0.0},
{"x":15.6,"y":0.0105},{"x":15.6,"y":0.0076},{"x":15.6,"y":0.0048},{"x":15.6,"y":0.0019},{"x":15.6,"y":-0.001},
{"x":15.9,"y":0.0105},{"x":15.9,"y":0.0078},{"x":15.9,"y":0.005},{"x":15.9,"y":0.0023},{"x":15.9,"y":-0.0005},
{"x":16.2,"y":0.01},{"x":16.2,"y":0.0073},{"x":16.2,"y":0.0045},{"x":16.2,"y":0.0018},{"x":16.2,"y":-0.001},
{"x":16.5,"y":0.0105},{"x":16.5,"y":0.0078},{"x":16.5,"y":0.005},{"x":16.5,"y":0.0023},{"x":16.5,"y":-0.0005},
{"x":16.8,"y":0.0095},{"x":16.8,"y":0.0069},{"x":16.8,"y":0.0043},{"x":16.8,"y":0.0016},{"x":16.8,"y":-0.001},
{"x":17.1,"y":0.009},{"x":17.1,"y":0.0064},{"x":17.1,"y":0.0038},{"x":17.1,"y":0.0011},{"x":17.1,"y":-0.0015},
{"x":17.4,"y":0.0085},{"x":17.4,"y":0.0061},{"x":17.4,"y":0.0038},{"x":17.4,"y":0.0014},{"x":17.4,"y":-0.001},
{"x":17.7,"y":0.008},{"x":17.7,"y":0.0056},{"x":17.7,"y":0.0033},{"x":17.7,"y":0.0009},{"x":17.7,"y":-0.0015},
{"x":18.0,"y":0.0075},{"x":18.0,"y":0.0051},{"x":18.0,"y":0.0028},{"x":18.0,"y":0.0004},{"x":18.0,"y":-0.002},
{"x":18.3,"y":0.007},{"x":18.3,"y":0.0049},{"x":18.3,"y":0.0028},{"x":18.3,"y":0.0006},{"x":18.3,"y":-0.0015},
{"x":18.6,"y":0.0065},{"x":18.6,"y":0.0044},{"x":18.6,"y":0.0023},{"x":18.6,"y":0.0001},{"x":18.6,"y":-0.002},
{"x":18.9,"y":0.006},{"x":18.9,"y":0.004},{"x":18.9,"y":0.002},{"x":18.9,"y":0.0},{"x":18.9,"y":-0.002},
{"x":19.2,"y":0.0055},{"x":19.2,"y":0.0035},{"x":19.2,"y":0.0015},{"x":19.2,"y":-0.0005},{"x":19.2,"y":-0.0025},
{"x":19.5,"y":0.005},{"x":19.5,"y":0.0033},{"x":19.5,"y":0.0015},{"x":19.5,"y":-0.0003},{"x":19.5,"y":-0.002},
{"x":19.8,"y":0.0045},{"x":19.8,"y":0.0026},{"x":19.8,"y":0.0008},{"x":19.8,"y":-0.0011},{"x":19.8,"y":-0.003},
{"x":20.1,"y":0.004},{"x":20.1,"y":0.0023},{"x":20.1,"y":0.0005},{"x":20.1,"y":-0.0013},{"x":20.1,"y":-0.003},
{"x":20.4,"y":0.0035},{"x":20.4,"y":0.002},{"x":20.4,"y":0.0005},{"x":20.4,"y":-0.001},{"x":20.4,"y":-0.0025},
{"x":20.7,"y":0.003},{"x":20.7,"y":0.0015},{"x":20.7,"y":0.0},{"x":20.7,"y":-0.0015},{"x":20.7,"y":-0.003},
{"x":21.0,"y":0.0025},{"x":21.0,"y":0.001},{"x":21.0,"y":-0.0005},{"x":21.0,"y":-0.002},{"x":21.0,"y":-0.0035},
{"x":21.3,"y":0.002},{"x":21.3,"y":0.0008},{"x":21.3,"y":-0.0005},{"x":21.3,"y":-0.0018},{"x":21.3,"y":-0.003},
{"x":21.6,"y":0.0015},{"x":21.6,"y":0.0003},{"x":21.6,"y":-0.001},{"x":21.6,"y":-0.0023},{"x":21.6,"y":-0.0035},
{"x":21.9,"y":0.001},{"x":21.9,"y":-0.0003},{"x":21.9,"y":-0.0015},{"x":21.9,"y":-0.0028},{"x":21.9,"y":-0.004},
{"x":22.2,"y":0.0005},{"x":22.2,"y":-0.0006},{"x":22.2,"y":-0.0018},{"x":22.2,"y":-0.0029},{"x":22.2,"y":-0.004},
{"x":9.15,"y":0.012},{"x":9.15,"y":0.008},{"x":9.15,"y":0.004},{"x":9.15,"y":0.0},
{"x":9.45,"y":0.0101},{"x":9.45,"y":0.0064},{"x":9.45,"y":0.0026},{"x":9.45,"y":-0.0011},
{"x":9.75,"y":0.013},{"x":9.75,"y":0.009},{"x":9.75,"y":0.005},{"x":9.75,"y":0.001},
{"x":10.05,"y":0.0109},{"x":10.05,"y":0.0066},{"x":10.05,"y":0.0024},{"x":10.05,"y":-0.0019},
{"x":10.35,"y":0.0136},{"x":10.35,"y":0.0089},{"x":10.35,"y":0.0041},{"x":10.35,"y":-0.0006},
{"x":10.65,"y":0.012},{"x":10.65,"y":0.008},{"x":10.65,"y":0.004},{"x":10.65,"y":0.0},
{"x":10.95,"y":0.0126},{"x":10.95,"y":0.0079},{"x":10.95,"y":0.0031},{"x":10.95,"y":-0.0016},
{"x":11.25,"y":0.011},{"x":11.25,"y":0.007},{"x":11.25,"y":0.003},{"x":11.25,"y":-0.001},
{"x":11.55,"y":0.012},{"x":11.55,"y":0.008},{"x":11.55,"y":0.004},{"x":11.55,"y":0.0},
{"x":11.85,"y":0.011},{"x":11.85,"y":0.007},{"x":11.85,"y":0.003},{"x":11.85,"y":-0.001},
{"x":12.15,"y":0.012},{"x":12.15,"y":0.008},{"x":12.15,"y":0.004},{"x":12.15,"y":0.0},
{"x":12.45,"y":0.013},{"x":12.45,"y":0.009},{"x":12.45,"y":0.005},{"x":12.45,"y":0.001},
{"x":12.75,"y":0.0146},{"x":12.75,"y":0.0099},{"x":12.75,"y":0.0051},{"x":12.75,"y":0.0004},
{"x":13.05,"y":0.0113},{"x":13.05,"y":0.0078},{"x":13.05,"y":0.0043},{"x":13.05,"y":0.0008},
{"x":13.35,"y":0.0121},{"x":13.35,"y":0.0084},{"x":13.35,"y":0.0046},{"x":13.35,"y":0.0009},
{"x":13.65,"y":0.0105},{"x":13.65,"y":0.0075},{"x":13.65,"y":0.0045},{"x":13.65,"y":0.0015},
{"x":13.95,"y":0.0095},{"x":13.95,"y":0.0065},{"x":13.95,"y":0.0035},{"x":13.95,"y":0.0005},
{"x":14.25,"y":0.0105},{"x":14.25,"y":0.0075},{"x":14.25,"y":0.0045},{"x":14.25,"y":0.0015},
{"x":14.55,"y":0.0095},{"x":14.55,"y":0.0065},{"x":14.55,"y":0.0035},{"x":14.55,"y":0.0005},
{"x":14.85,"y":0.0096},{"x":14.85,"y":0.0069},{"x":14.85,"y":0.0041},{"x":14.85,"y":0.0014},
{"x":15.15,"y":0.01},{"x":15.15,"y":0.007},{"x":15.15,"y":0.004},{"x":15.15,"y":0.001},
{"x":15.45,"y":0.0096},{"x":15.45,"y":0.0069},{"x":15.45,"y":0.0041},{"x":15.45,"y":0.0014},
{"x":15.75,"y":0.0091},{"x":15.75,"y":0.0062},{"x":15.75,"y":0.0033},{"x":15.75,"y":0.0004},
{"x":16.05,"y":0.0091},{"x":16.05,"y":0.0064},{"x":16.05,"y":0.0036},{"x":16.05,"y":0.0009},
{"x":16.35,"y":0.0086},{"x":16.35,"y":0.0059},{"x":16.35,"y":0.0031},{"x":16.35,"y":0.0004},
{"x":16.65,"y":0.0091},{"x":16.65,"y":0.0064},{"x":16.65,"y":0.0036},{"x":16.65,"y":0.0009},
{"x":16.95,"y":0.0082},{"x":16.95,"y":0.0056},{"x":16.95,"y":0.0029},{"x":16.95,"y":0.0003},
{"x":17.25,"y":0.0077},{"x":17.25,"y":0.0051},{"x":17.25,"y":0.0024},{"x":17.25,"y":-0.0002},
{"x":17.55,"y":0.0073},{"x":17.55,"y":0.005},{"x":17.55,"y":0.0026},{"x":17.55,"y":0.0002},
{"x":17.85,"y":0.0068},{"x":17.85,"y":0.0044},{"x":17.85,"y":0.0021},{"x":17.85,"y":-0.0003},
{"x":18.15,"y":0.0063},{"x":18.15,"y":0.0039},{"x":18.15,"y":0.0016},{"x":18.15,"y":-0.0008},
{"x":18.45,"y":0.0059},{"x":18.45,"y":0.0038},{"x":18.45,"y":0.0017},{"x":18.45,"y":-0.0004},
{"x":18.75,"y":0.0054},{"x":18.75,"y":0.0033},{"x":18.75,"y":0.0012},{"x":18.75,"y":-0.0009},
{"x":19.05,"y":0.005},{"x":19.05,"y":0.003},{"x":19.05,"y":0.001},{"x":19.05,"y":-0.001},
{"x":19.35,"y":0.0045},{"x":19.35,"y":0.0025},{"x":19.35,"y":0.0005},{"x":19.35,"y":-0.0015},
{"x":19.65,"y":0.0041},{"x":19.65,"y":0.0024},{"x":19.65,"y":0.0006},{"x":19.65,"y":-0.0011},
{"x":19.95,"y":0.0036},{"x":19.95,"y":0.0017},{"x":19.95,"y":-0.0002},{"x":19.95,"y":-0.0021},
{"x":20.25,"y":0.0031},{"x":20.25,"y":0.0014},{"x":20.25,"y":-0.0004},{"x":20.25,"y":-0.0021},
{"x":20.55,"y":0.0028},{"x":20.55,"y":0.0013},{"x":20.55,"y":-0.0003},{"x":20.55,"y":-0.0018},
{"x":20.85,"y":0.0023},{"x":20.85,"y":0.0008},{"x":20.85,"y":-0.0008},{"x":20.85,"y":-0.0023},
{"x":21.15,"y":0.0018},{"x":21.15,"y":0.0003},{"x":21.15,"y":-0.0013},{"x":21.15,"y":-0.0028},
{"x":21.45,"y":0.0014},{"x":21.45,"y":0.0001},{"x":21.45,"y":-0.0011},{"x":21.45,"y":-0.0024},
{"x":21.75,"y":0.0009},{"x":21.75,"y":-0.0004},{"x":21.75,"y":-0.0016},{"x":21.75,"y":-0.0029},
{"x":22.05,"y":0.0004},{"x":22.05,"y":-0.0009},{"x":22.05,"y":-0.0021},{"x":22.05,"y":-0.0034},
{"x":22.35,"y":-0.0001},{"x":22.35,"y":-0.0012},{"x":22.35,"y":-0.0023},{"x":22.35,"y":-0.0034},
{"x":22.5,"y":0.0},{"x":22.5,"y":-0.002},{"x":22.5,"y":-0.004},{"x":22.7,"y":-0.002},{"x":22.7,"y":-0.005},{"x":22.9,"y":0.0},{"x":22.9,"y":-0.003},{"x":22.9,"y":-0.007},{"x":23.0,"y":0.001},{"x":23.0,"y":-0.004},{"x":23.0,"y":-0.009},{"x":23.1,"y":-0.001},{"x":23.1,"y":-0.006},{"x":23.1,"y":-0.01},{"x":23.2,"y":-0.003},{"x":23.2,"y":-0.008},{"x":23.3,"y":-0.005},{"x":23.3,"y":-0.009},{"x":23.4,"y":-0.007},{"x":23.4,"y":-0.01},{"x":23.5,"y":-0.008},{"x":23.5,"y":-0.011},{"x":23.6,"y":-0.009},{"x":23.6,"y":-0.012},{"x":23.7,"y":-0.011},{"x":23.7,"y":-0.013},{"x":23.8,"y":-0.012},{"x":23.9,"y":-0.014},{"x":23.9,"y":-0.016},{"x":24.0,"y":-0.016},{"x":24.1,"y":-0.018},{"x":24.2,"y":-0.02},{"x":24.2,"y":-0.017},{"x":24.3,"y":-0.022},{"x":24.4,"y":-0.024},{"x":24.4,"y":-0.021},{"x":24.5,"y":-0.026},{"x":24.6,"y":-0.028},{"x":24.7,"y":-0.031},{"x":24.8,"y":-0.033},{"x":24.9,"y":-0.035},{"x":25.0,"y":-0.037},{"x":25.1,"y":-0.039},{"x":25.2,"y":-0.041},{"x":25.3,"y":-0.042},{"x":25.4,"y":-0.043},{"x":25.5,"y":-0.044},{"x":25.55,"y":-0.046},{"x":22.8,"y":-0.008},{"x":23.0,"y":-0.01},{"x":22.6,"y":-0.006}
],
"evm1": [
{"t":0.0,"v":0.15},{"t":0.3,"v":0.2},{"t":0.5,"v":0.12},{"t":0.8,"v":0.18},{"t":1.0,"v":0.3},{"t":1.1,"v":0.15},{"t":1.4,"v":0.25},{"t":1.6,"v":0.12},{"t":1.9,"v":0.2},{"t":2.2,"v":0.15},{"t":2.5,"v":0.18},{"t":2.8,"v":0.14},{"t":3.1,"v":0.2},{"t":3.4,"v":0.3},{"t":3.6,"v":0.45},{"t":3.7,"v":0.2},{"t":3.9,"v":0.5},
{"t":3.95,"v":0.3},{"t":4.0,"v":4.9},{"t":4.05,"v":0.4},{"t":4.1,"v":4.9},{"t":4.15,"v":0.5},{"t":4.2,"v":5.8},{"t":4.25,"v":0.3},{"t":4.28,"v":5.8},{"t":4.34,"v":0.2},
{"t":4.5,"v":0.15},{"t":4.8,"v":0.2},{"t":5.0,"v":0.15},{"t":5.1,"v":0.75},{"t":5.15,"v":0.2},{"t":5.35,"v":0.7},{"t":5.4,"v":0.15},{"t":5.7,"v":0.2},{"t":6.0,"v":0.15},{"t":6.1,"v":0.75},{"t":6.15,"v":0.2},{"t":6.4,"v":0.15},{"t":6.7,"v":0.3},{"t":6.95,"v":0.9},{"t":7.0,"v":0.2},{"t":7.2,"v":0.7},{"t":7.25,"v":0.2},{"t":7.5,"v":0.15},{"t":7.9,"v":1.78},{"t":7.95,"v":0.3},{"t":8.15,"v":1.44},{"t":8.2,"v":0.2},{"t":8.5,"v":0.3},{"t":8.85,"v":0.84},{"t":8.9,"v":0.2},{"t":9.2,"v":0.3},{"t":9.5,"v":0.25},{"t":9.7,"v":2.45},{"t":9.75,"v":0.4},{"t":9.8,"v":2.45},{"t":9.85,"v":0.5},{"t":9.95,"v":4.28},{"t":10.0,"v":0.5},{"t":10.1,"v":0.4},{"t":10.3,"v":0.5},{"t":10.6,"v":0.55},{"t":10.7,"v":3.05},{"t":10.75,"v":0.5},{"t":10.95,"v":1.14},{"t":11.0,"v":0.2},{"t":11.2,"v":0.15},{"t":11.6,"v":0.15},{"t":12.0,"v":0.15},{"t":12.4,"v":0.15},{"t":12.8,"v":0.15},{"t":13.2,"v":0.15},{"t":13.5,"v":0.2},{"t":13.9,"v":2.53},{"t":13.95,"v":0.4},{"t":14.0,"v":2.53},{"t":14.05,"v":0.3},{"t":14.15,"v":4.28},{"t":14.2,"v":0.2},{"t":14.5,"v":0.15},{"t":15.0,"v":0.15},{"t":15.5,"v":0.15},{"t":16.0,"v":0.15},{"t":16.5,"v":0.15},{"t":17.0,"v":0.2},{"t":17.25,"v":0.5},{"t":17.3,"v":0.2},{"t":17.6,"v":0.3},{"t":17.9,"v":0.15},{"t":18.2,"v":0.4},{"t":18.35,"v":1.29},{"t":18.4,"v":0.3},{"t":18.6,"v":1.72},{"t":18.65,"v":0.2},{"t":18.9,"v":0.3},{"t":19.3,"v":0.15},{"t":19.6,"v":0.3},{"t":19.95,"v":0.75},{"t":20.0,"v":0.3},{"t":20.2,"v":3.39},{"t":20.25,"v":0.5},{"t":20.6,"v":4.2},{"t":20.65,"v":0.5},{"t":20.7,"v":4.2},{"t":20.75,"v":0.4},{"t":20.9,"v":3.9},{"t":20.95,"v":0.3},{"t":21.2,"v":0.15},{"t":21.6,"v":0.15},{"t":22.0,"v":0.2},{"t":22.4,"v":0.15},{"t":22.8,"v":0.2},{"t":23.2,"v":0.3},{"t":23.3,"v":0.98},{"t":23.35,"v":0.3},{"t":23.7,"v":0.4},{"t":23.9,"v":0.7},{"t":23.95,"v":0.2},{"t":24.3,"v":0.15},{"t":24.8,"v":0.15},{"t":25.3,"v":0.15},{"t":25.8,"v":0.15},{"t":26.2,"v":0.2},{"t":26.45,"v":5.8},{"t":26.5,"v":0.5},{"t":26.55,"v":5.8},{"t":26.6,"v":0.4},{"t":26.7,"v":5.5},{"t":26.75,"v":0.4},{"t":26.8,"v":5.5},{"t":26.85,"v":0.2},{"t":27.2,"v":0.2},{"t":27.35,"v":0.5},{"t":27.4,"v":9.74},{"t":27.45,"v":0.5},{"t":27.6,"v":3.05},{"t":27.65,"v":0.2},{"t":27.9,"v":0.15},{"t":28.3,"v":0.15},{"t":28.8,"v":0.15},{"t":29.3,"v":0.15},{"t":29.8,"v":0.15},{"t":30.3,"v":0.2},{"t":30.5,"v":0.63},{"t":30.55,"v":0.3},{"t":30.8,"v":0.65},{"t":30.85,"v":0.2},{"t":31.2,"v":0.15},{"t":31.6,"v":0.15},{"t":32.0,"v":0.2},{"t":32.5,"v":0.2},{"t":33.0,"v":0.3},{"t":33.25,"v":4.11},{"t":33.3,"v":0.5},{"t":33.5,"v":3.16},{"t":33.55,"v":0.4},{"t":33.75,"v":1.44},{"t":33.8,"v":0.3},{"t":34.0,"v":1.5},{"t":34.05,"v":0.2},{"t":34.4,"v":0.15},{"t":34.8,"v":0.15},{"t":35.2,"v":0.15},{"t":35.6,"v":0.15},{"t":36.0,"v":0.2},{"t":36.25,"v":1.64},{"t":36.3,"v":0.3},{"t":36.5,"v":1.44},{"t":36.55,"v":0.2},{"t":37.0,"v":0.3},{"t":37.2,"v":2.22},{"t":37.25,"v":0.3},{"t":37.4,"v":0.77},{"t":37.45,"v":0.15},{"t":37.8,"v":0.15},{"t":38.2,"v":0.2},{"t":38.6,"v":0.15},{"t":39.0,"v":0.2},{"t":39.4,"v":0.15},{"t":39.8,"v":0.2},{"t":40.2,"v":0.5},{"t":40.45,"v":1.2},{"t":40.5,"v":0.4},{"t":40.65,"v":1.05},{"t":40.7,"v":0.5},{"t":40.9,"v":0.9},{"t":41.1,"v":0.95},{"t":41.15,"v":0.3},{"t":41.4,"v":0.5},{"t":41.6,"v":0.2},{"t":42.0,"v":0.15},{"t":42.4,"v":0.2},{"t":42.55,"v":1.05},{"t":42.6,"v":0.3},{"t":42.75,"v":4.63},{"t":42.8,"v":0.5},{"t":42.85,"v":4.63},{"t":42.9,"v":0.5},{"t":43.05,"v":7.85},{"t":43.1,"v":0.6},{"t":43.3,"v":3.05},{"t":43.35,"v":0.2},{"t":43.6,"v":0.2},{"t":44.0,"v":0.3},{"t":44.4,"v":0.15},{"t":44.8,"v":0.4},{"t":45.2,"v":0.3},{"t":45.6,"v":0.15},{"t":46.0,"v":0.2},{"t":46.5,"v":0.15},{"t":47.0,"v":0.3},{"t":47.2,"v":2.87},{"t":47.25,"v":0.4},{"t":47.5,"v":0.2},{"t":47.9,"v":0.15},{"t":48.35,"v":0.9},{"t":48.4,"v":0.3},{"t":48.65,"v":0.75},{"t":48.7,"v":0.2},{"t":49.0,"v":0.3},{"t":49.4,"v":0.15},{"t":49.8,"v":0.2},{"t":50.0,"v":0.15}
],
"evm2": [
{"t":0.0,"v":0.25},{"t":0.2,"v":0.1},{"t":0.4,"v":0.2},{"t":0.6,"v":0.05},{"t":0.8,"v":0.3},{"t":1.0,"v":0.45},{"t":1.2,"v":0.2},{"t":1.4,"v":0.1},{"t":1.6,"v":0.3},{"t":1.8,"v":0.15},{"t":2.0,"v":0.25},{"t":2.2,"v":0.05},{"t":2.4,"v":0.2},{"t":2.6,"v":0.1},{"t":2.8,"v":0.25},{"t":3.0,"v":0.15},{"t":3.2,"v":0.3},{"t":3.4,"v":0.5},{"t":3.5,"v":0.6},{"t":3.6,"v":0.2},{"t":3.8,"v":0.55},{"t":4.0,"v":0.3},{"t":4.2,"v":0.4},{"t":4.4,"v":0.2},{"t":4.6,"v":0.3},{"t":4.8,"v":0.1},{"t":5.0,"v":0.2},{"t":5.2,"v":0.6},{"t":5.4,"v":0.3},{"t":5.6,"v":0.5},{"t":5.8,"v":0.1},{"t":6.0,"v":0.35},{"t":6.2,"v":0.15},{"t":6.4,"v":0.3},{"t":6.6,"v":0.05},{"t":6.8,"v":0.4},{"t":7.0,"v":0.25},{"t":7.2,"v":0.6},{"t":7.4,"v":0.2},{"t":7.6,"v":0.35},{"t":7.8,"v":0.1},{"t":8.0,"v":0.5},{"t":8.2,"v":0.3},{"t":8.4,"v":0.55},{"t":8.6,"v":0.2},{"t":8.8,"v":0.4},{"t":9.0,"v":0.25},{"t":9.2,"v":0.45},{"t":9.4,"v":0.15},{"t":9.6,"v":0.4},{"t":9.8,"v":0.3},{"t":10.0,"v":0.6},{"t":10.2,"v":0.35},{"t":10.4,"v":0.55},{"t":10.6,"v":0.3},{"t":10.8,"v":0.6},{"t":11.0,"v":0.2},{"t":11.2,"v":0.3},{"t":11.4,"v":0.1},{"t":11.6,"v":0.3},{"t":11.8,"v":0.2},{"t":12.0,"v":0.25},{"t":12.2,"v":0.15},{"t":12.4,"v":0.3},{"t":12.6,"v":0.1},{"t":12.8,"v":0.25},{"t":13.0,"v":0.15},{"t":13.2,"v":0.3},{"t":13.4,"v":0.45},{"t":13.6,"v":0.6},{"t":13.8,"v":0.3},{"t":14.0,"v":0.5},{"t":14.2,"v":0.3},{"t":14.4,"v":0.2},{"t":14.6,"v":0.15},{"t":14.8,"v":0.2},{"t":15.0,"v":0.1},{"t":15.2,"v":0.2},{"t":15.5,"v":0.18},{"t":15.8,"v":0.2},{"t":16.1,"v":0.15},{"t":16.4,"v":0.2},{"t":16.7,"v":0.18},{"t":17.0,"v":0.3},{"t":17.2,"v":0.6},{"t":17.4,"v":0.4},{"t":17.6,"v":0.55},{"t":17.8,"v":0.2},{"t":18.0,"v":0.3},{"t":18.2,"v":0.15},{"t":18.4,"v":0.4},{"t":18.6,"v":0.25},{"t":18.8,"v":0.5},{"t":19.0,"v":0.2},{"t":19.2,"v":0.3},{"t":19.4,"v":0.1},{"t":19.6,"v":0.35},{"t":19.8,"v":0.2},{"t":20.0,"v":0.6},{"t":20.2,"v":0.4},{"t":20.4,"v":0.3},{"t":20.6,"v":0.5},{"t":20.8,"v":0.3},{"t":21.0,"v":0.2},{"t":21.2,"v":0.1},{"t":21.4,"v":0.2},{"t":21.6,"v":0.05},{"t":21.8,"v":0.25},{"t":22.0,"v":0.1},{"t":22.2,"v":0.45},{"t":22.4,"v":0.3},{"t":22.6,"v":0.55},{"t":22.8,"v":0.2},{"t":23.0,"v":0.35},{"t":23.2,"v":0.1},{"t":23.4,"v":0.5},{"t":23.6,"v":0.3},{"t":23.8,"v":0.7},{"t":24.0,"v":0.5},{"t":24.2,"v":0.2},{"t":24.4,"v":0.1},{"t":24.6,"v":0.2},{"t":24.8,"v":0.05},{"t":25.0,"v":0.2},{"t":25.2,"v":0.1},{"t":25.4,"v":0.25},{"t":25.6,"v":0.1},{"t":25.8,"v":0.2},{"t":26.0,"v":0.35},{"t":26.2,"v":0.2},{"t":26.4,"v":0.5},{"t":26.6,"v":0.3},{"t":26.8,"v":0.4},{"t":27.0,"v":0.2},{"t":27.2,"v":0.3},{"t":27.4,"v":0.5},{"t":27.6,"v":0.3},{"t":27.8,"v":0.2},{"t":28.0,"v":0.25},{"t":28.2,"v":0.1},{"t":28.4,"v":0.2},{"t":28.6,"v":0.1},{"t":28.8,"v":0.25},{"t":29.0,"v":0.15},{"t":29.2,"v":0.2},{"t":29.4,"v":0.05},{"t":29.6,"v":0.2},{"t":29.8,"v":0.1},{"t":30.0,"v":0.2},{"t":30.2,"v":0.35},{"t":30.4,"v":0.5},{"t":30.6,"v":0.6},{"t":30.8,"v":0.4},{"t":31.0,"v":0.6},{"t":31.2,"v":0.3},{"t":31.4,"v":0.45},{"t":31.6,"v":0.2},{"t":31.8,"v":0.3},{"t":32.0,"v":0.15},{"t":32.2,"v":0.4},{"t":32.4,"v":0.2},{"t":32.6,"v":0.5},{"t":32.8,"v":0.3},{"t":33.0,"v":0.6},{"t":33.2,"v":0.5},{"t":33.4,"v":0.3},{"t":33.6,"v":0.4},{"t":33.8,"v":0.2},{"t":34.0,"v":0.3},{"t":34.2,"v":0.1},{"t":34.4,"v":0.2},{"t":34.6,"v":0.1},{"t":34.8,"v":0.3},{"t":35.0,"v":0.2},{"t":35.2,"v":0.3},{"t":35.4,"v":0.15},{"t":35.6,"v":0.3},{"t":35.8,"v":0.1},{"t":36.0,"v":0.2},{"t":36.2,"v":0.4},{"t":36.4,"v":0.2},{"t":36.6,"v":0.3},{"t":36.8,"v":0.15},{"t":37.0,"v":0.45},{"t":37.2,"v":0.3},{"t":37.4,"v":0.25},{"t":37.6,"v":0.1},{"t":37.8,"v":0.2},{"t":38.0,"v":0.3},{"t":38.2,"v":0.15},{"t":38.4,"v":0.3},{"t":38.6,"v":0.5},{"t":38.8,"v":0.2},{"t":39.0,"v":0.3},{"t":39.2,"v":0.1},{"t":39.4,"v":0.2},{"t":39.6,"v":0.15},{"t":39.8,"v":0.3},{"t":40.0,"v":0.2},{"t":40.2,"v":0.6},{"t":40.4,"v":0.4},{"t":40.6,"v":0.9},{"t":40.8,"v":0.5},{"t":41.0,"v":0.7},{"t":41.2,"v":0.8},{"t":41.4,"v":0.4},{"t":41.6,"v":0.3},{"t":41.8,"v":0.2},{"t":42.0,"v":0.4},{"t":42.2,"v":0.2},{"t":42.4,"v":0.3},{"t":42.6,"v":0.6},{"t":42.8,"v":0.9},{"t":43.0,"v":0.4},{"t":43.03,"v":7.95},{"t":43.08,"v":0.3},{"t":43.3,"v":0.4},{"t":43.5,"v":0.2},{"t":43.7,"v":0.35},{"t":43.9,"v":0.1},{"t":44.1,"v":0.3},{"t":44.3,"v":0.2},{"t":44.5,"v":0.4},{"t":44.7,"v":0.5},{"t":44.9,"v":0.6},{"t":45.1,"v":0.3},{"t":45.3,"v":0.7},{"t":45.5,"v":0.2},{"t":45.7,"v":0.3},{"t":45.9,"v":0.1},{"t":46.1,"v":0.3},{"t":46.3,"v":0.2},{"t":46.5,"v":0.4},{"t":46.7,"v":0.2},{"t":46.9,"v":0.5},{"t":47.1,"v":0.6},{"t":47.3,"v":0.8},{"t":47.5,"v":0.3},{"t":47.7,"v":0.2},{"t":47.9,"v":0.4},{"t":48.1,"v":0.5},{"t":48.3,"v":0.8},{"t":48.5,"v":0.6},{"t":48.7,"v":0.8},{"t":48.9,"v":0.3},{"t":49.1,"v":0.5},{"t":49.3,"v":0.2},{"t":49.5,"v":0.3},{"t":49.7,"v":0.1},{"t":49.9,"v":0.2},{"t":50.0,"v":0.15}
]
},
"columns": 1,
"align": "none",
"spacing": 22,
"concat": [
 {"columns": 2, "align": "none", "spacing": 37, "concat": [
  {"title": {"text": "AM-to-AM Distortion", "offset": 11},
   "width": 448, "height": 289,
   "layer": [
    {"data": {"values": [{"g": 0}, {"g": 5}, {"g": 10}, {"g": 15}, {"g": 20}, {"g": 25}]},
     "mark": {"type": "rule", "color": "#c4c4c4", "strokeWidth": 1.5},
     "encoding": {"x": {"field": "g", "type": "quantitative", "axis": null}}},
    {"data": {"values": [{"g": -0.6}, {"g": -0.4}, {"g": -0.2}, {"g": 0}, {"g": 0.2}, {"g": 0.4}]},
     "mark": {"type": "rule", "color": "#c4c4c4", "strokeWidth": 1.5},
     "encoding": {"y": {"field": "g", "type": "quantitative", "axis": null}}},
    {"data": {"name": "amam2"},
     "mark": {"type": "point", "shape": "circle", "filled": false, "color": "#ff0000", "size": 22, "strokeWidth": 1.4, "opacity": 1},
     "encoding": {
      "x": {"field": "x", "type": "quantitative", "scale": {"domain": [-5, 30], "nice": false, "zero": false},
            "axis": {"orient": "bottom", "values": [-5,0,5,10,15,20,25,30], "grid": false, "tickSize": 12, "labelPadding": 4, "title": "P_Load_dBm", "titleFontSize": 17, "titlePadding": 15}},
      "y": {"field": "y", "type": "quantitative", "scale": {"domain": [-0.8, 0.6], "nice": false, "zero": false},
            "axis": {"orient": "left", "values": [-0.8,-0.6,-0.4,-0.2,0,0.2,0.4,0.6], "grid": false, "format": ".1f", "tickSize": 12, "labelPadding": 4, "title": "AM_to_AM_Distortion_DS2", "titleColor": "#ff0000", "titleFontSize": 16, "titlePadding": 27}}
     }},
    {"data": {"name": "amam1"},
     "mark": {"type": "point", "shape": "circle", "filled": false, "color": "#0000ff", "size": 22, "strokeWidth": 1.4, "opacity": 1},
     "encoding": {
      "x": {"field": "x", "type": "quantitative",
            "axis": {"orient": "bottom", "values": [-4,-3,-2,-1,1,2,3,4,6,7,8,9,11,12,13,14,16,17,18,19,21,22,23,24,26,27,28,29], "tickSize": 6, "labels": false, "domain": false, "grid": false, "title": null}},
      "y": {"field": "y", "type": "quantitative",
            "axis": {"orient": "left", "values": [-0.7,-0.5,-0.3,-0.1,0.1,0.3,0.5], "tickSize": 6, "labels": false, "domain": false, "grid": false, "title": "AM_to_AM_Distortion_DS1", "titleColor": "#0000ff", "titleFontSize": 16, "titlePadding": 72}}
     }}
   ],
   "resolve": {"axis": {"x": "independent", "y": "independent"}}
  },
  {"title": {"text": "Instantaneous EVM (%) vs. Time", "offset": 11},
   "width": 456, "height": 289,
   "layer": [
    {"data": {"values": [{"g": 5}, {"g": 10}, {"g": 15}, {"g": 20}, {"g": 25}, {"g": 30}, {"g": 35}, {"g": 40}, {"g": 45}]},
     "mark": {"type": "rule", "color": "#c4c4c4", "strokeWidth": 1.5},
     "encoding": {"x": {"field": "g", "type": "quantitative", "axis": null}}},
    {"data": {"values": [{"g": 2}, {"g": 4}, {"g": 6}, {"g": 8}]},
     "mark": {"type": "rule", "color": "#c4c4c4", "strokeWidth": 1.5},
     "encoding": {"y": {"field": "g", "type": "quantitative", "axis": null}}},
    {"data": {"name": "evm2"},
     "mark": {"type": "line", "color": "#ff0000", "strokeWidth": 2},
     "encoding": {
      "x": {"field": "t", "type": "quantitative", "scale": {"domain": [0, 50], "nice": false, "zero": false},
            "axis": {"orient": "bottom", "values": [0,5,10,15,20,25,30,35,40,45,50], "grid": false, "tickSize": 12, "labelPadding": 4, "title": "time, usec", "titleFontSize": 17, "titlePadding": 15}},
      "y": {"field": "v", "type": "quantitative", "scale": {"domain": [0, 10], "nice": false, "zero": false},
            "axis": {"orient": "left", "values": [0,2,4,6,8,10], "grid": false, "tickSize": 12, "labelPadding": 4, "title": "EVM_Instantaneous_DS2", "titleColor": "#ff0000", "titleFontSize": 16, "titlePadding": 20}}
     }},
    {"data": {"name": "evm1"},
     "mark": {"type": "line", "color": "#0000ff", "strokeWidth": 2},
     "encoding": {
      "x": {"field": "t", "type": "quantitative", "axis": null},
      "y": {"field": "v", "type": "quantitative",
            "axis": {"orient": "left", "values": [1,3,5,7,9], "tickSize": 6, "labels": false, "domain": false, "grid": false, "title": "EVM_Instantaneous_DS1", "titleColor": "#0000ff", "titleFontSize": 16, "titlePadding": 59}}
     }}
   ],
   "resolve": {"axis": {"x": "independent", "y": "independent"}}
  }
 ]},
 {"columns": 3, "align": "none", "spacing": 76, "concat": [
  {"title": {"text": "AM-to-PM  (radians) Distortion", "offset": 11},
   "width": 463, "height": 304,
   "layer": [
    {"data": {"values": [{"g": 0}, {"g": 5}, {"g": 10}, {"g": 15}, {"g": 20}, {"g": 25}]},
     "mark": {"type": "rule", "color": "#c4c4c4", "strokeWidth": 1.5},
     "encoding": {"x": {"field": "g", "type": "quantitative", "axis": null}}},
    {"data": {"values": [{"g": -0.04}, {"g": -0.02}, {"g": 0}, {"g": 0.02}]},
     "mark": {"type": "rule", "color": "#c4c4c4", "strokeWidth": 1.5},
     "encoding": {"y": {"field": "g", "type": "quantitative", "axis": null}}},
    {"data": {"name": "ampm2"},
     "mark": {"type": "point", "shape": "circle", "filled": false, "color": "#ff0000", "size": 22, "strokeWidth": 1.4, "opacity": 1},
     "encoding": {
      "x": {"field": "x", "type": "quantitative", "scale": {"domain": [-5, 30], "nice": false, "zero": false},
            "axis": {"orient": "bottom", "values": [-5,0,5,10,15,20,25,30], "grid": false, "tickSize": 12, "labelPadding": 4, "title": "P_Load_dBm", "titleFontSize": 17, "titlePadding": 15}},
      "y": {"field": "y", "type": "quantitative", "scale": {"domain": [-0.06, 0.04], "nice": false, "zero": false},
            "axis": {"orient": "left", "values": [-0.06,-0.04,-0.02,0,0.02,0.04], "grid": false, "format": ".2f", "tickSize": 12, "labelPadding": 4, "title": "AM_to_PM_Distortion_DS2", "titleColor": "#ff0000", "titleFontSize": 16, "titlePadding": 13}}
     }},
    {"data": {"name": "ampm1"},
     "mark": {"type": "point", "shape": "circle", "filled": false, "color": "#0000ff", "size": 22, "strokeWidth": 1.4, "opacity": 1},
     "encoding": {
      "x": {"field": "x", "type": "quantitative",
            "axis": {"orient": "bottom", "values": [-4,-3,-2,-1,1,2,3,4,6,7,8,9,11,12,13,14,16,17,18,19,21,22,23,24,26,27,28,29], "tickSize": 6, "labels": false, "domain": false, "grid": false, "title": null}},
      "y": {"field": "y", "type": "quantitative",
            "axis": {"orient": "left", "values": [-0.05,-0.03,-0.01,0.01,0.03], "tickSize": 6, "labels": false, "domain": false, "grid": false, "title": "AM_to_PM_Distortion_DS1", "titleColor": "#0000ff", "titleFontSize": 16, "titlePadding": 64}}
     }}
   ],
   "resolve": {"axis": {"x": "independent", "y": "independent"}}
  },
  {"width": 179, "height": 60, "view": {"stroke": null},
   "data": {"values": [{"row": "header", "label": "EVM_DS1"}, {"row": "value", "label": "0.831"}]},
   "encoding": {"y": {"field": "row", "type": "nominal", "scale": {"domain": ["header", "value"], "paddingInner": 0, "paddingOuter": 0}, "axis": null}},
   "layer": [
    {"mark": {"type": "rect", "fill": "#ffffff", "stroke": "#0000ff", "strokeWidth": 2, "yOffset": -31, "y2Offset": -31}},
    {"transform": [{"filter": "datum.row === 'header'"}], "mark": {"type": "text", "color": "#0000ff", "fontSize": 16, "align": "center", "baseline": "middle", "yOffset": -31}, "encoding": {"text": {"field": "label"}}},
    {"transform": [{"filter": "datum.row === 'value'"}], "mark": {"type": "text", "color": "#0000ff", "fontSize": 16, "align": "right", "baseline": "middle", "x": "width", "dx": -12, "yOffset": -31}, "encoding": {"text": {"field": "label"}}}
   ]
  },
  {"width": 179, "height": 60, "view": {"stroke": null},
   "data": {"values": [{"row": "header", "label": "EVM_DS2"}, {"row": "value", "label": "0.819"}]},
   "encoding": {"y": {"field": "row", "type": "nominal", "scale": {"domain": ["header", "value"], "paddingInner": 0, "paddingOuter": 0}, "axis": null}},
   "layer": [
    {"mark": {"type": "rect", "fill": "#ffffff", "stroke": "#ff0000", "strokeWidth": 2, "yOffset": -31, "y2Offset": -31}},
    {"transform": [{"filter": "datum.row === 'header'"}], "mark": {"type": "text", "color": "#ff0000", "fontSize": 16, "align": "center", "baseline": "middle", "yOffset": -31}, "encoding": {"text": {"field": "label"}}},
    {"transform": [{"filter": "datum.row === 'value'"}], "mark": {"type": "text", "color": "#ff0000", "fontSize": 16, "align": "right", "baseline": "middle", "x": "width", "dx": -12, "yOffset": -31}, "encoding": {"text": {"field": "label"}}}
   ]
  }
 ]}
]
}
